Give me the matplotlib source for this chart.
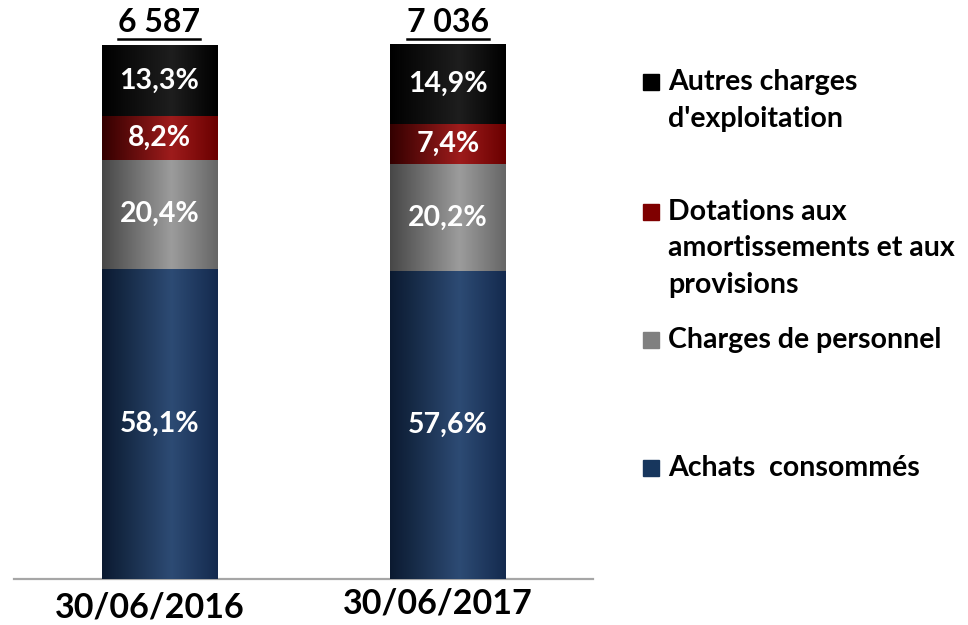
import numpy as np
import matplotlib
matplotlib.use("Agg")
import matplotlib.pyplot as plt
from matplotlib.colors import LinearSegmentedColormap
from matplotlib.patches import Rectangle
from matplotlib.transforms import ScaledTranslation

plt.rcParams['font.family'] = ['Lato', 'DejaVu Sans']
plt.rcParams['font.weight'] = 'bold'

# Données
periodes = ["30/06/2016", "30/06/2017"]
totaux = ["6 587", "7 036"]
achats = [58.1, 57.6]
personnel = [20.4, 20.2]
dotations = [8.2, 7.4]
autres = [13.3, 14.9]
series_noms = ["Achats  consommés", "Charges de personnel",
               "Dotations aux\namortissements et aux\nprovisions",
               "Autres charges\nd'exploitation"]

# couleurs : (gauche, milieu, droite) pour l'effet cylindre
couleurs = {
    "achats": ("#0b1a30", "#2d4b74", "#142a4e"),
    "personnel": ("#474747", "#9c9c9c", "#666666"),
    "dotations": ("#330000", "#9e1c1c", "#6a0000"),
    "autres": ("#000000", "#1e1e1e", "#000000"),
}
couleurs_legende = {"achats": "#17365d", "personnel": "#808080",
                    "dotations": "#7f0000", "autres": "#000000"}

W, H = 968, 625
fig = plt.figure(figsize=(W / 100, H / 100), dpi=100)
ax = fig.add_axes([14 / W, 1 - 579 / H, 579 / W, 534 / H])

x = np.arange(len(periodes))
largeur = 0.4
gradient = np.linspace(0, 1, 256).reshape(1, -1)

bas = np.zeros(len(periodes))
for cle, valeurs in [("achats", achats), ("personnel", personnel),
                     ("dotations", dotations), ("autres", autres)]:
    cmap = LinearSegmentedColormap.from_list(
        cle, [(0, couleurs[cle][0]), (0.6, couleurs[cle][1]), (1, couleurs[cle][2])])
    barres = ax.bar(x, valeurs, largeur, bottom=bas, color=couleurs_legende[cle],
                    edgecolor="none", clip_on=False, zorder=2)
    for b in barres:
        im = ax.imshow(gradient, cmap=cmap, aspect="auto", zorder=3,
                       extent=(b.get_x(), b.get_x() + b.get_width(),
                               b.get_y(), b.get_y() + b.get_height()))
        im.set_clip_path(b)
        im.set_clip_on(True)
    for xi, b0, v in zip(x, bas, valeurs):
        ax.text(xi, b0 + v / 2, f"{v:.1f}%".replace(".", ","), color="white",
                ha="center", va="center", fontsize=20.5, fontweight="bold", zorder=4)
    bas = bas + np.array(valeurs)

ax.set_xlim(-0.504, 1.503)
ax.set_ylim(0, 100)

# Totaux soulignés
textes_totaux = []
for xi, tot in zip(x, totaux):
    t = ax.annotate(tot, (xi, 100), xytext=(0, 16), textcoords="offset points",
                    ha="center", va="center", fontsize=23, fontweight="bold")
    textes_totaux.append(t)

for s in ["top", "left", "right"]:
    ax.spines[s].set_visible(False)
ax.spines["bottom"].set_color("#a6a6a6")
ax.spines["bottom"].set_linewidth(1.6)
ax.set_yticks([])
ax.set_xticks(x)
ax.set_xticklabels(periodes, fontsize=24.5, fontweight="bold")
ax.tick_params(axis="x", length=0, pad=7)
decalages = [(-10, -3), (-10, 1)]
for lab, (dx, dy) in zip(ax.get_xticklabels(), decalages):
    lab.set_transform(lab.get_transform() + ScaledTranslation(dx / 100, dy / 100, fig.dpi_scale_trans))

# Légende manuelle
ordre = ["autres", "dotations", "personnel", "achats"]
noms = dict(zip(["achats", "personnel", "dotations", "autres"], series_noms))
lignes_base = {"autres": 90, "dotations": 220, "personnel": 348, "achats": 476}
for cle in ordre:
    yb = lignes_base[cle]
    fig.patches.append(Rectangle((643 / W, 1 - yb / H), 16 / W, 16 / H,
                                 transform=fig.transFigure, color=couleurs_legende[cle]))
    for i, ligne in enumerate(noms[cle].split("\n")):
        fig.text(668 / W, 1 - (yb + i * 36.5) / H, ligne, fontsize=20.5,
                 fontweight="bold", ha="left", va="baseline")

# soulignement des totaux
fig.canvas.draw()
r = fig.canvas.get_renderer()
for t in textes_totaux:
    bb = t.get_window_extent(r)
    y_px = H - 39
    fig.add_artist(plt.Line2D([bb.x0 / W, bb.x1 / W], [y_px / H, y_px / H],
                              transform=fig.transFigure, color="black", linewidth=1.8))

fig.savefig("out.png", dpi=100)
